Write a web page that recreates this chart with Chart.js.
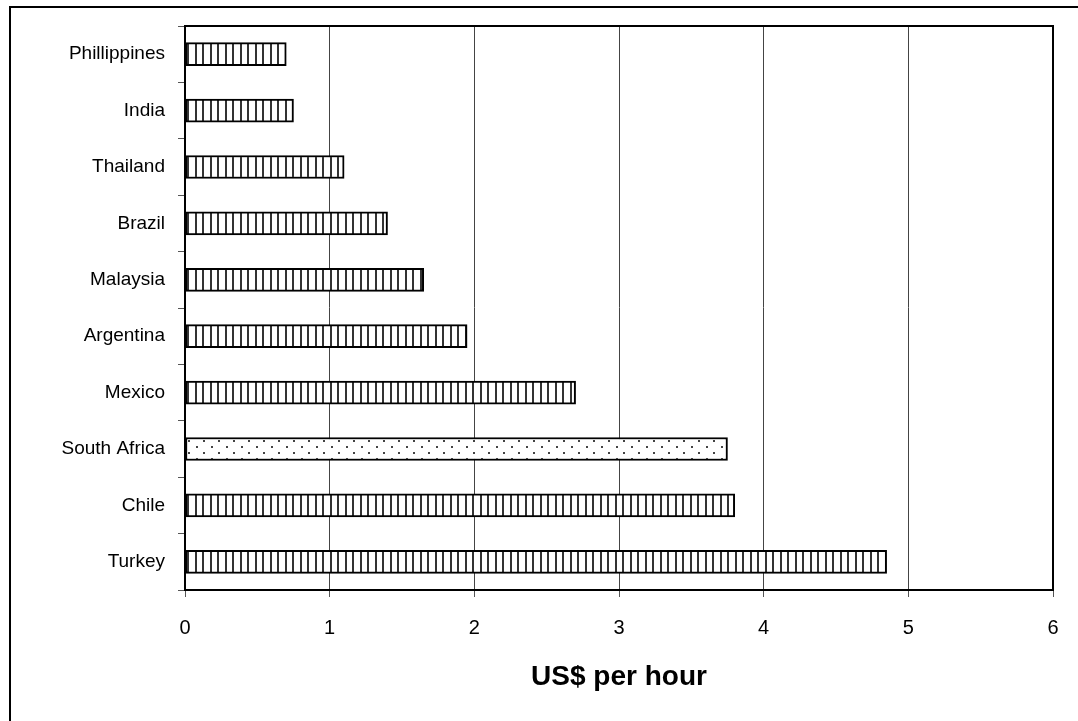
<!DOCTYPE html>
<html>
<head>
<meta charset="utf-8">
<title>Wages</title>
<script src="https://cdn.jsdelivr.net/npm/chart.js@4/dist/chart.umd.min.js"></script>
<style>
  body { margin: 0; background: #fff; }
</style>
</head>
<body>
<canvas id="wageChart" width="1078" height="721"></canvas>
<script>
// values, top to bottom
const countries = ["Phillippines", "India", "Thailand", "Brazil", "Malaysia",
  "Argentina", "Mexico", "South Africa", "Chile", "Turkey"];
const wages = [0.70, 0.75, 1.10, 1.40, 1.65, 1.95, 2.70, 3.75, 3.80, 4.85];
const xTicks = [0, 1, 2, 3, 4, 5, 6];
const highlighted = "South Africa";

function stripePattern() {
  const c = document.createElement("canvas");
  c.width = 15;
  c.height = 4;
  const ctx = c.getContext("2d");
  ctx.fillStyle = "#fff";
  ctx.fillRect(0, 0, 15, 4);
  ctx.fillStyle = "#333";
  ctx.fillRect(0, 0, 2, 4);
  ctx.fillRect(7, 0, 2, 4);
  return ctx.createPattern(c, "repeat");
}

function dotPattern() {
  const c = document.createElement("canvas");
  c.width = 15;
  c.height = 12;
  const ctx = c.getContext("2d");
  ctx.fillStyle = "#fff";
  ctx.fillRect(0, 0, 15, 12);
  ctx.fillStyle = "#444";
  ctx.fillRect(1, 2, 2, 2);
  ctx.fillRect(8, 8, 2, 2);
  return ctx.createPattern(c, "repeat");
}

const stripes = stripePattern();
const dots = dotPattern();

// frame round the plot and the outer box of the picture
const framePlugin = {
  id: "frame",
  afterDraw(chart) {
    const ctx = chart.ctx;
    const a = chart.chartArea;
    ctx.save();
    ctx.strokeStyle = "#000";
    ctx.lineWidth = 2;
    ctx.strokeRect(a.left, a.top, a.right - a.left, a.bottom - a.top);
    ctx.beginPath();
    ctx.moveTo(10, 721);
    ctx.lineTo(10, 7);
    ctx.lineTo(1078, 7);
    ctx.stroke();
    ctx.restore();
  }
};

Chart.defaults.font.family = '"Liberation Sans", Arial, sans-serif';
Chart.defaults.color = "#000";

new Chart(document.getElementById("wageChart"), {
  type: "bar",
  data: {
    labels: countries,
    datasets: [{
      data: wages,
      backgroundColor: countries.map((c) => (c === highlighted ? dots : stripes)),
      borderColor: "#000",
      borderWidth: 2,
      borderSkipped: false,
      barThickness: 23
    }]
  },
  options: {
    indexAxis: "y",
    responsive: false,
    animation: false,
    layout: { padding: { top: 26, right: 25, left: 0, bottom: 0 } },
    plugins: {
      legend: { display: false },
      tooltip: { enabled: false }
    },
    scales: {
      x: {
        min: xTicks[0],
        max: xTicks[xTicks.length - 1],
        ticks: {
          stepSize: 1,
          padding: 19,
          font: { size: 20 },
          callback: (v) => (xTicks.includes(v) ? String(v) : "")
        },
        grid: { color: "#444", lineWidth: 1, tickLength: 7, tickColor: "#555" },
        border: { color: "#000", width: 2 },
        title: {
          display: true,
          text: "US$ per hour",
          font: { size: 28, weight: "bold" },
          padding: { top: 0, bottom: 27 }
        },
        afterFit(scale) { scale.height = 131; }
      },
      y: {
        ticks: { padding: 13, font: { size: 19 } },
        grid: {
          offset: true,
          drawOnChartArea: false,
          tickLength: 7,
          tickColor: "#555"
        },
        border: { color: "#000", width: 2 },
        afterFit(scale) { scale.width = 185; }
      }
    }
  },
  plugins: [framePlugin]
});
</script>
</body>
</html>
